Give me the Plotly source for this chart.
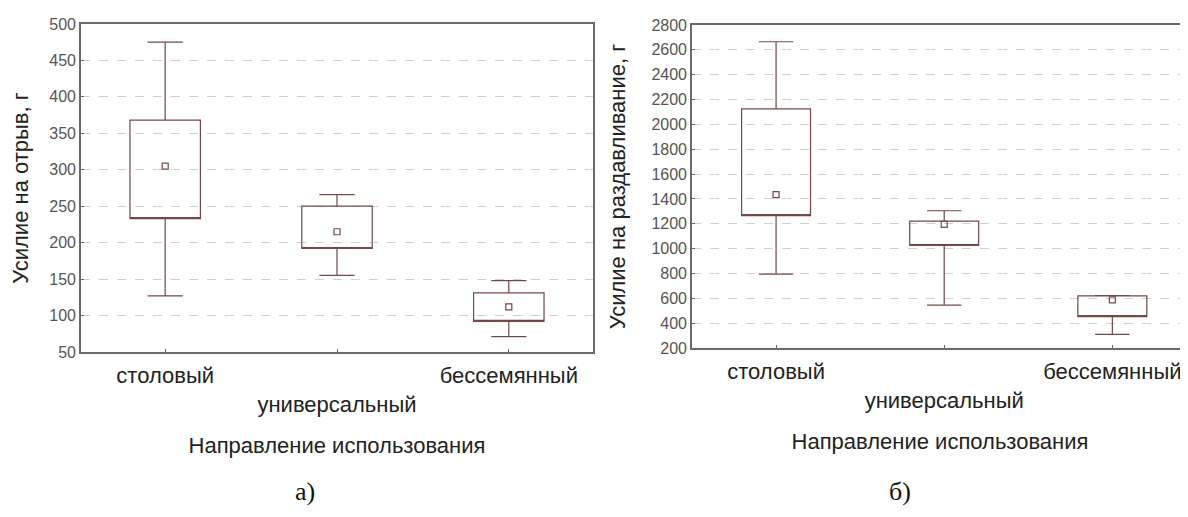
import plotly.graph_objects as go

# ---- data ----
categories = ["столовый", "универсальный", "бессемянный"]
tick_labels = ["столовый", "<br>универсальный", "бессемянный"]

# а) Усилие на отрыв, г
a_lower = [127, 155, 71]
a_q1 = [233, 192, 92]
a_mean = [305, 215, 112]
a_q3 = [368, 250, 131]
a_upper = [475, 266, 148]
a_ticks = [50, 100, 150, 200, 250, 300, 350, 400, 450, 500]

# б) Усилие на раздавливание, г
b_lower = [795, 545, 310]
b_q1 = [1265, 1025, 452]
b_mean = [1435, 1195, 588]
b_q3 = [2125, 1222, 620]
b_upper = [2665, 1305, 622]
b_ticks = [200, 400, 600, 800, 1000, 1200, 1400, 1600, 1800, 2000, 2200, 2400, 2600, 2800]

BOX_C = "#744848"
FRAME_C = "#6a6a6a"
GRID_C = "#cfcfcf"
FONT = "Liberation Sans"

OFF = 8  # page body margin
W, H = 1188 - OFF, 517 - OFF

def px(x):
    return (x - OFF) / W

def py(y):
    return 1 - (y - OFF) / H

fig = go.Figure()

def add_panel(xa, ya, lower, q1, mean, q3, upper):
    fig.add_trace(go.Box(
        x=categories, q1=q1, median=q1, q3=q3,
        lowerfence=lower, upperfence=upper,
        width=0.41, whiskerwidth=0.5,
        line=dict(color=BOX_C, width=1.2),
        fillcolor="rgba(255,255,255,0)",
        boxpoints=False, showlegend=False, hoverinfo="skip",
        xaxis=xa, yaxis=ya,
    ))
    fig.add_trace(go.Scatter(
        x=categories, y=mean, mode="markers",
        marker=dict(symbol="square-open", size=6, color=BOX_C, line=dict(width=1.2, color=BOX_C)),
        showlegend=False, hoverinfo="skip",
        xaxis=xa, yaxis=ya,
    ))

add_panel("x", "y", a_lower, a_q1, a_mean, a_q3, a_upper)
add_panel("x2", "y2", b_lower, b_q1, b_mean, b_q3, b_upper)

xcommon = dict(
    type="category", tickmode="array", tickvals=categories, ticktext=tick_labels,
    showline=True, mirror=True, linecolor=FRAME_C, linewidth=1.6,
    ticks="inside", ticklen=3, tickcolor=FRAME_C, showgrid=False, zeroline=False,
    tickfont=dict(family=FONT, size=22, color="#222"), automargin=False,
    ticklabelstandoff=3,
)
ycommon = dict(
    showline=True, linecolor=FRAME_C, linewidth=1.6,
    ticks="inside", ticklen=3, tickcolor=FRAME_C,
    showgrid=True, gridcolor=GRID_C, griddash="dash", gridwidth=1, zeroline=False,
    tickfont=dict(family=FONT, size=16, color="#555"), automargin=False,
)

fig.update_layout(
    width=W, height=H,
    margin=dict(l=0, r=0, t=0, b=0),
    paper_bgcolor="white", plot_bgcolor="white",
    font=dict(family=FONT, color="#222"),
    xaxis=dict(domain=[px(81), px(593)], range=[-0.49, 2.49], anchor="y",
               title=dict(text="Направление использования", font=dict(size=22, family=FONT, color="#222"), standoff=22),
               **xcommon),
    xaxis2=dict(domain=[px(692), 1.0], range=[-0.5, 2.45], anchor="y2",
                title=dict(text="Направление использования", font=dict(size=22, family=FONT, color="#222"), standoff=22),
                **xcommon),
    yaxis=dict(domain=[py(352), py(24)], range=[50, 500], tickvals=a_ticks, mirror=True, anchor="x",
               title=dict(text="Усилие на отрыв, г", font=dict(size=22, family=FONT, color="#222"), standoff=17),
               **ycommon),
    yaxis2=dict(domain=[py(348), py(25)], range=[200, 2800], tickvals=b_ticks, mirror=False, anchor="x2",
                title=dict(text="Усилие на раздавливание, г", font=dict(size=22, family=FONT, color="#222"), standoff=20),
                **ycommon),
    annotations=[
        dict(text="а)", x=px(305), y=py(491), xref="paper", yref="paper", showarrow=False,
             xanchor="center", yanchor="middle", font=dict(family="Liberation Serif", size=26, color="#111")),
        dict(text="б)", x=px(900), y=py(491), xref="paper", yref="paper", showarrow=False,
             xanchor="center", yanchor="middle", font=dict(family="Liberation Serif", size=26, color="#111")),
    ],
)

fig.write_html("out.html")
